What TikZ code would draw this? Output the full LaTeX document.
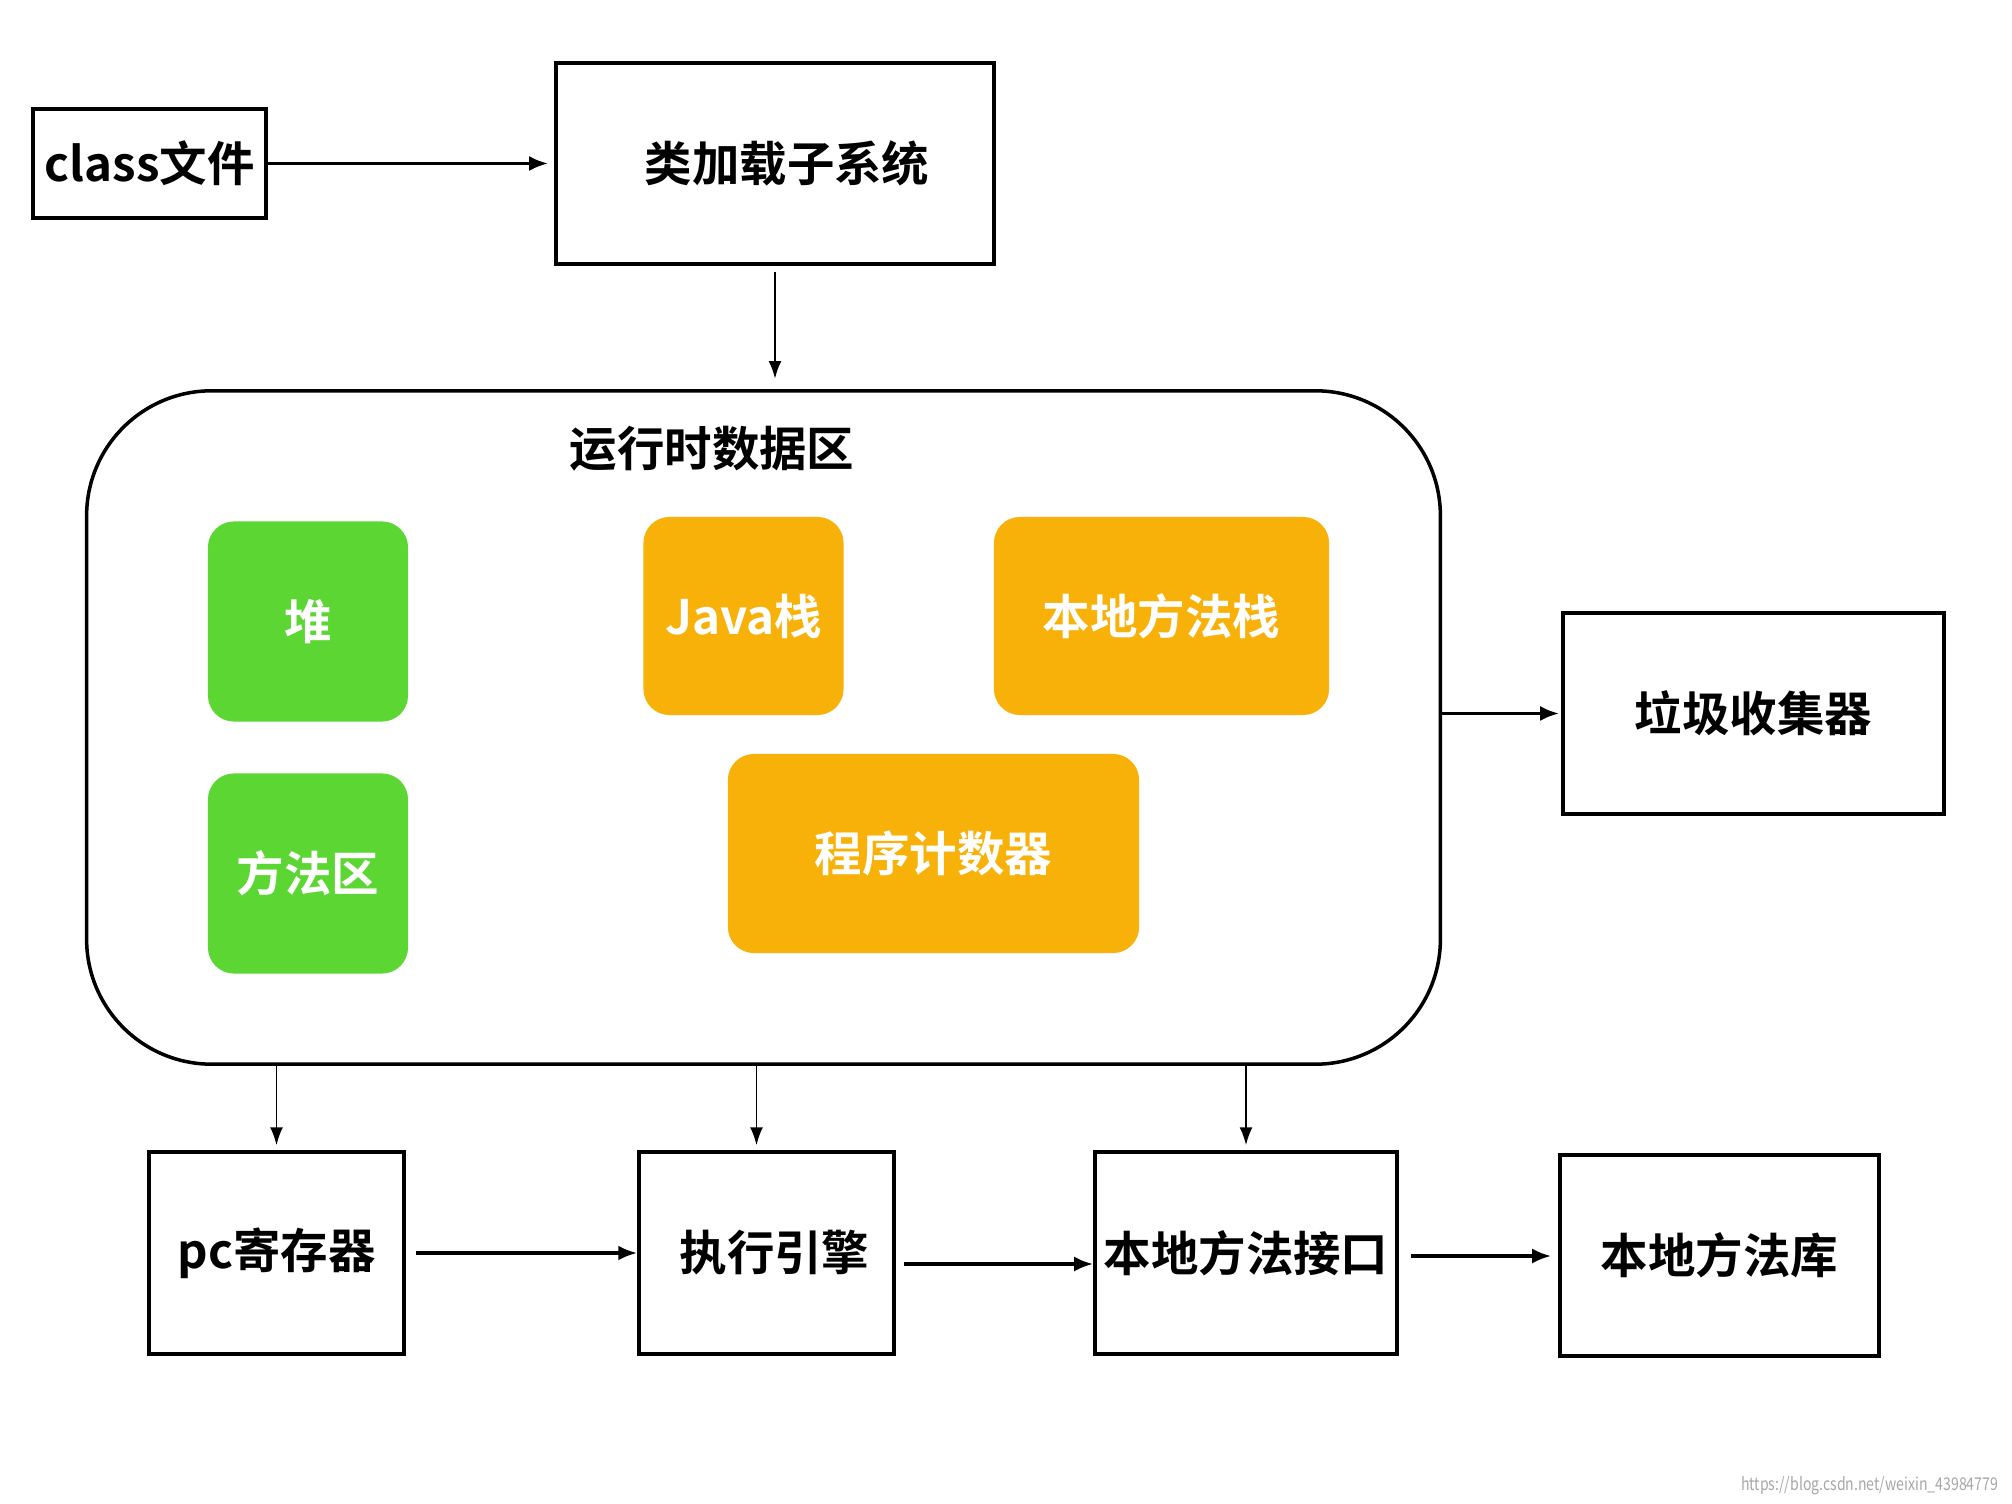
\documentclass[tikz,border=0pt]{standalone}
\usepackage{fontspec}
\setmainfont{Noto Sans CJK SC}[BoldFont={Noto Sans CJK SC Bold}]
\usetikzlibrary{arrows.meta}

\definecolor{heapgreen}{RGB}{91,214,50}
\definecolor{stackorange}{RGB}{247,177,9}

\tikzset{
  label font/.style={font=\fontsize{13.5}{16}\selectfont\bfseries},
  box/.style={draw, line width=0.95pt, inner sep=0pt, label font},
  area/.style={fill=#1, rounded corners=0.26cm, text=white, inner sep=0pt, label font},
  link/.style={-{Latex[length=1.9mm,width=1.5mm]}, line width=1pt},
  thinlink/.style={-{Latex[length=1.8mm,width=1.3mm]}, line width=0.55pt},
}

\begin{document}
\begin{tikzpicture}[x=0.01cm,y=-0.01cm]
	\useasboundingbox (0,0) rectangle (2012,1504);

	% loading
	\node[box, minimum width=2.33cm, minimum height=1.09cm] (cls) at (149.5,163.5) {class文件};
	\node[box, minimum width=4.38cm, minimum height=2.01cm] (loader) at (775,163.5) {\hspace{0.24cm}类加载子系统};

	% runtime data area
	\node[draw, line width=1pt, rounded corners=1.25cm, minimum width=13.53cm, minimum height=6.73cm] (rt) at (763.5,727.5) {};
	\node[label font] (rttitle) at (712,449) {运行时数据区};

	\node[area=heapgreen, minimum width=2cm, minimum height=2cm] (heap) at (308,621.5) {堆};
	\node[area=heapgreen, minimum width=2cm, minimum height=2cm] (meth) at (308,873.5) {方法区};
	\node[area=stackorange, minimum width=2cm, minimum height=1.98cm] (jstack) at (743.5,616) {Java栈};
	\node[area=stackorange, minimum width=3.35cm, minimum height=1.98cm] (nstack) at (1161.5,616) {本地方法栈};
	\node[area=stackorange, minimum width=4.11cm, minimum height=1.99cm] (pcount) at (933.5,853.5) {程序计数器};

	\node[box, minimum width=3.81cm, minimum height=2.01cm] (gc) at (1753.5,713.5) {垃圾收集器};

	% execution
	\node[box, minimum width=2.55cm, minimum height=2.02cm] (pcreg) at (276.5,1253) {pc寄存器};
	\node[box, minimum width=2.55cm, minimum height=2.02cm] (exec) at (766.5,1253) {\hspace{0.16cm}执行引擎};
	\node[box, minimum width=3.02cm, minimum height=2.02cm] (nif) at (1246,1253) {本地方法接口};
	\node[box, minimum width=3.19cm, minimum height=2.01cm] (nlib) at (1719.5,1255.5) {本地方法库};

	\node[text=black!35, font=\fontsize{5}{6}\selectfont, xscale=0.8, transform shape, anchor=east] (mark) at (2008,1486) {https://blog.csdn.net/weixin\_43984779};

	\draw[link, shorten >=0.06cm] (cls) -- (loader);
	\draw[thinlink, line width=0.75pt, shorten <=0.06cm, shorten >=0.1cm] (loader) -- (rt.north -| loader);
	\draw[link, shorten >=0.02cm] (rt.east |- gc) -- (gc);

	\draw[thinlink, shorten >=0.05cm] (rt.south -| pcreg) -- (pcreg);
	\draw[thinlink, shorten >=0.05cm] ([xshift=-0.1cm]rt.south -| exec) -- ([xshift=-0.1cm]exec.north);
	\draw[thinlink, shorten >=0.05cm] (rt.south -| nif) -- (nif);

	\draw[link, shorten <=0.1cm] (pcreg) -- (exec);
	\draw[link, shorten <=0.08cm] ([yshift=-0.11cm]exec.east) -- ([yshift=-0.11cm]nif.west);
	\draw[link, shorten <=0.12cm, shorten >=0.07cm] ([yshift=-0.03cm]nif.east) -- ([yshift=-0.03cm]nif.east -| nlib.west);
\end{tikzpicture}
\end{document}
